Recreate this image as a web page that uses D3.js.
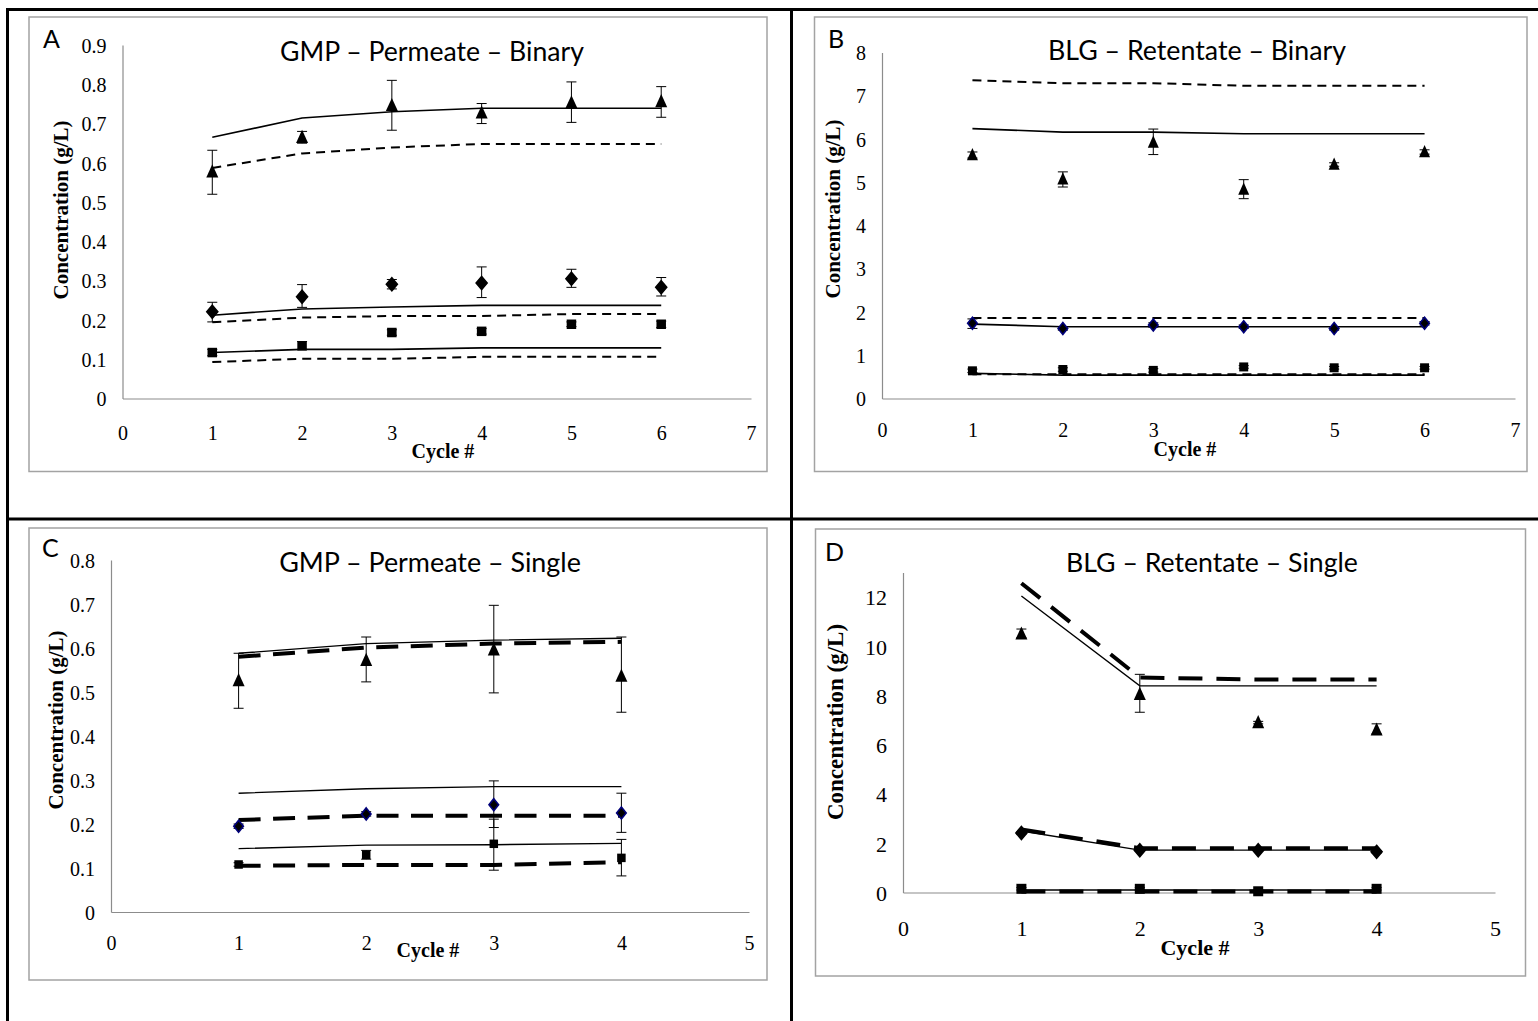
<!DOCTYPE html>
<html>
<head>
<meta charset="utf-8">
<script src="https://cdn.jsdelivr.net/npm/d3@7"></script>
<style>
  html, body { margin: 0; padding: 0; background: #fff; }
  svg { display: block; }
</style>
</head>
<body>
<svg id="chart" width="1538" height="1021"></svg>
<script>
// ---------------- DATA ----------------
const cyclesAB = [1, 2, 3, 4, 5, 6];
const cyclesCD = [1, 2, 3, 4];

const xTicksAB = [0, 1, 2, 3, 4, 5, 6, 7];
const xTicksCD = [0, 1, 2, 3, 4, 5];
const yTicksA = [0, 0.1, 0.2, 0.3, 0.4, 0.5, 0.6, 0.7, 0.8, 0.9];
const yTicksB = [0, 1, 2, 3, 4, 5, 6, 7, 8];
const yTicksC = [0, 0.1, 0.2, 0.3, 0.4, 0.5, 0.6, 0.7, 0.8];
const yTicksD = [0, 2, 4, 6, 8, 10, 12];

const panelLetters = ["A", "B", "C", "D"];
const panelTitles = ["GMP \u2013 Permeate \u2013 Binary", "BLG \u2013 Retentate \u2013 Binary",
                     "GMP \u2013 Permeate \u2013 Single", "BLG \u2013 Retentate \u2013 Single"];
const yAxisTitle = "Concentration (g/L)";
const xAxisTitle = "Cycle #";

// Panel A – GMP permeate binary
const A_tri      = [0.577, 0.665, 0.746, 0.727, 0.753, 0.756];
const A_triLo    = [0.520, 0.650, 0.683, 0.700, 0.703, 0.716];
const A_triHi    = [0.632, 0.680, 0.810, 0.751, 0.806, 0.794];
const A_triSolid = [0.665, 0.714, 0.730, 0.739, 0.739, 0.739];
const A_triDash  = [0.587, 0.624, 0.639, 0.648, 0.648, 0.648];
const A_dia      = [0.221, 0.259, 0.291, 0.294, 0.305, 0.283];
const A_diaLo    = [0.195, 0.232, 0.279, 0.257, 0.283, 0.261];
const A_diaHi    = [0.245, 0.290, 0.303, 0.335, 0.329, 0.308];
const A_diaSolid = [0.212, 0.228, 0.233, 0.237, 0.237, 0.237];
const A_diaDash  = [0.194, 0.206, 0.210, 0.210, 0.215, 0.215];
const A_sq       = [0.117, 0.134, 0.168, 0.171, 0.189, 0.189];
const A_sqLo     = [0.109, 0.125, 0.161, 0.164, 0.183, 0.181];
const A_sqHi     = [0.125, 0.145, 0.175, 0.178, 0.195, 0.197];
const A_sqSolid  = [0.117, 0.125, 0.125, 0.129, 0.129, 0.129];
const A_sqDash   = [0.093, 0.101, 0.101, 0.106, 0.106, 0.106];

// Panel B – BLG retentate binary
const B_tri      = [5.63, 5.07, 5.92, 4.83, 5.41, 5.70];
const B_triLo    = [5.56, 4.89, 5.64, 4.62, 5.37, 5.65];
const B_triHi    = [5.70, 5.24, 6.23, 5.06, 5.45, 5.75];
const B_triSolid = [6.24, 6.16, 6.16, 6.12, 6.12, 6.12];
const B_triDash  = [7.36, 7.29, 7.29, 7.23, 7.23, 7.23];
const B_dia      = [1.74, 1.62, 1.70, 1.66, 1.62, 1.74];
const B_diaLo    = [1.62, 1.58, 1.65, 1.62, 1.58, 1.70];
const B_diaHi    = [1.84, 1.66, 1.75, 1.70, 1.66, 1.78];
const B_diaSolid = [1.72, 1.66, 1.66, 1.66, 1.66, 1.66];
const B_diaDash  = [1.86, 1.86, 1.86, 1.86, 1.86, 1.86];
const B_sq       = [0.64, 0.67, 0.65, 0.73, 0.71, 0.71];
const B_sqLo     = [0.60, 0.63, 0.61, 0.70, 0.68, 0.68];
const B_sqHi     = [0.68, 0.71, 0.69, 0.76, 0.74, 0.74];
const B_sqSolid  = [0.58, 0.54, 0.54, 0.54, 0.54, 0.54];
const B_sqDash   = [0.56, 0.56, 0.56, 0.56, 0.56, 0.56];

// Panel C – GMP permeate single
const C_tri      = [0.526, 0.572, 0.596, 0.536];
const C_triLo    = [0.463, 0.523, 0.498, 0.454];
const C_triHi    = [0.588, 0.625, 0.697, 0.625];
const C_triSolid = [0.588, 0.610, 0.618, 0.622];
const C_triDash  = [0.580, 0.601, 0.610, 0.614];
const C_dia      = [0.195, 0.223, 0.244, 0.225];
const C_diaLo    = [0.190, 0.218, 0.192, 0.181];
const C_diaHi    = [0.200, 0.228, 0.298, 0.270];
const C_diaSolid = [0.270, 0.280, 0.285, 0.285];
const C_diaDash  = [0.209, 0.219, 0.219, 0.219];
const C_sq       = [0.108, 0.130, 0.155, 0.123];
const C_sqLo     = [0.104, 0.120, 0.095, 0.082];
const C_sqHi     = [0.112, 0.140, 0.211, 0.165];
const C_sqSolid  = [0.144, 0.152, 0.153, 0.156];
const C_sqDash   = [0.105, 0.107, 0.107, 0.113];

// Panel D – BLG retentate single
const D_tri      = [10.50, 8.05, 6.90, 6.60];
const D_triLo    = [10.35, 7.32, 6.85, 6.45];
const D_triHi    = [10.70, 8.86, 6.95, 6.85];
const D_triSolid = [12.04, 8.39, 8.39, 8.39];
const D_triDash  = [12.56, 8.73, 8.65, 8.65];
const D_dia      = [2.42, 1.72, 1.72, 1.65];
const D_diaLo    = [2.37, 1.68, 1.68, 1.60];
const D_diaHi    = [2.47, 1.76, 1.76, 1.70];
const D_diaSolid = [2.50, 1.72, 1.72, 1.72];
const D_diaDash  = [2.56, 1.80, 1.80, 1.80];
const D_sq       = [0.15, 0.15, 0.05, 0.15];
const D_sqLo     = [0.10, 0.10, 0.00, 0.10];
const D_sqHi     = [0.20, 0.20, 0.10, 0.20];
const D_sqSolid  = [0.10, 0.10, 0.10, 0.10];
const D_sqDash   = [0.04, 0.04, 0.04, 0.04];

// ---------------- LAYOUT / STYLE ----------------
const svg = d3.select("#chart");
const SERIF = "'Liberation Serif', 'Times New Roman', serif";
const SANS = "Lato, 'Open Sans', 'Liberation Sans', sans-serif";

// outer frame (table borders)
const frame = svg.append("g").attr("stroke", "#000").attr("stroke-width", 3);
frame.append("line").attr("x1", 6).attr("x2", 1538).attr("y1", 9.5).attr("y2", 9.5);
frame.append("line").attr("x1", 7.5).attr("x2", 7.5).attr("y1", 8).attr("y2", 1021);
frame.append("line").attr("x1", 791.5).attr("x2", 791.5).attr("y1", 8).attr("y2", 1021);
frame.append("line").attr("x1", 6).attr("x2", 1538).attr("y1", 519).attr("y2", 519);

const panels = [
  { letter: panelLetters[0], title: panelTitles[0], titleX: 432, titleY: 61, titleW: 304,
    letterX: 43, letterY: 48,
    box: [29, 17, 767, 471.5],
    x: [0, 7], xr: [122.5, 751], y: [0, 0.9], yr: [398.5, 45],
    xTicks: xTicksAB, yTicks: yTicksA, tickFont: 20,
    xTickY: 439.5, cycleX: 443, cycleY: 458, cycleFont: 20,
    yLabX: 68, yLabY: 210, yLabFont: 21,
    cycles: cyclesAB, dashW: 2, dash: "9,6", solidW: 1.6, diaFill: "#000", diaStroke: "#000",
    diaSize: [5.5, 6.5], sqSize: 9.5, triSize: [6, 7.5],
    series: [
      { m: "tri", v: A_tri, lo: A_triLo, hi: A_triHi, solid: A_triSolid, dash: A_triDash },
      { m: "dia", v: A_dia, lo: A_diaLo, hi: A_diaHi, solid: A_diaSolid, dash: A_diaDash },
      { m: "sq", v: A_sq, lo: A_sqLo, hi: A_sqHi, solid: A_sqSolid, dash: A_sqDash }
    ] },
  { letter: panelLetters[1], title: panelTitles[1], titleX: 1197, titleY: 60, titleW: 298,
    letterX: 828, letterY: 48,
    box: [814.5, 17, 1527, 471.5],
    x: [0, 7], xr: [882, 1515], y: [0, 8], yr: [398.5, 52.5],
    xTicks: xTicksAB, yTicks: yTicksB, tickFont: 20,
    xTickY: 437, cycleX: 1185, cycleY: 456, cycleFont: 20,
    yLabX: 840, yLabY: 209, yLabFont: 21,
    cycles: cyclesAB, dashW: 2, dash: "9,6", solidW: 1.6, diaFill: "#000", diaStroke: "#00007a",
    diaSize: [4.8, 6], sqSize: 9, triSize: [5.5, 7],
    series: [
      { m: "tri", v: B_tri, lo: B_triLo, hi: B_triHi, solid: B_triSolid, dash: B_triDash },
      { m: "dia", v: B_dia, lo: B_diaLo, hi: B_diaHi, solid: B_diaSolid, dash: B_diaDash },
      { m: "sq", v: B_sq, lo: B_sqLo, hi: B_sqHi, solid: B_sqSolid, dash: B_sqDash }
    ] },
  { letter: panelLetters[2], title: panelTitles[2], titleX: 430, titleY: 572, titleW: 302,
    letterX: 42, letterY: 557,
    box: [29, 528, 767, 980],
    x: [0, 5], xr: [111, 749], y: [0, 0.8], yr: [912, 560],
    xTicks: xTicksCD, yTicks: yTicksC, tickFont: 20,
    xTickY: 950, cycleX: 428, cycleY: 957, cycleFont: 20,
    yLabX: 63, yLabY: 720, yLabFont: 21,
    cycles: cyclesCD, dashW: 4, dash: "22,12.5", solidW: 1.4, diaFill: "#000", diaStroke: "#00007a",
    diaSize: [4.8, 6], sqSize: 8.5, triSize: [6, 7.5],
    series: [
      { m: "tri", v: C_tri, lo: C_triLo, hi: C_triHi, solid: C_triSolid, dash: C_triDash },
      { m: "dia", v: C_dia, lo: C_diaLo, hi: C_diaHi, solid: C_diaSolid, dash: C_diaDash },
      { m: "sq", v: C_sq, lo: C_sqLo, hi: C_sqHi, solid: C_sqSolid, dash: C_sqDash }
    ] },
  { letter: panelLetters[3], title: panelTitles[3], titleX: 1212, titleY: 572, titleW: 292,
    letterX: 825, letterY: 561,
    box: [815.5, 529, 1525.5, 976],
    x: [0, 5], xr: [903, 1495], y: [0, 13], yr: [892.5, 572.4],
    xTicks: xTicksCD, yTicks: yTicksD, tickFont: 22,
    xTickY: 936, cycleX: 1195, cycleY: 955, cycleFont: 22,
    yLabX: 843, yLabY: 722, yLabFont: 23,
    cycles: cyclesCD, dashW: 4, dash: "24,14", solidW: 1.4, diaFill: "#000", diaStroke: "#000",
    diaSize: [5.5, 6.5], sqSize: 10, triSize: [6, 7.5],
    series: [
      { m: "tri", v: D_tri, lo: D_triLo, hi: D_triHi, solid: D_triSolid, dash: D_triDash },
      { m: "dia", v: D_dia, lo: D_diaLo, hi: D_diaHi, solid: D_diaSolid, dash: D_diaDash },
      { m: "sq", v: D_sq, lo: D_sqLo, hi: D_sqHi, solid: D_sqSolid, dash: D_sqDash }
    ] }
];

function markerPath(m, p) {
  if (m === "tri") {
    const w = p.triSize[0], h = p.triSize[1];
    return `M0,${-h}L${w},${h * 0.75}L${-w},${h * 0.75}Z`;
  }
  if (m === "dia") {
    const w = p.diaSize[0], h = p.diaSize[1];
    return `M0,${-h}L${w},0L0,${h}L${-w},0Z`;
  }
  const s = p.sqSize / 2;
  return `M${-s},${-s}H${s}V${s}H${-s}Z`;
}

panels.forEach(p => {
  const g = svg.append("g");
  const xs = d3.scaleLinear().domain(p.x).range(p.xr);
  const ys = d3.scaleLinear().domain(p.y).range(p.yr);

  // chart area border
  g.append("rect")
    .attr("x", p.box[0]).attr("y", p.box[1])
    .attr("width", p.box[2] - p.box[0]).attr("height", p.box[3] - p.box[1])
    .attr("fill", "#fff").attr("stroke", "#a3a3a3").attr("stroke-width", 1.5);

  // axes
  const yAxis = d3.axisLeft(ys).tickValues(p.yTicks).tickSize(0).tickPadding(16)
    .tickFormat(d => String(+d.toFixed(2)));
  const yg = g.append("g").attr("transform", `translate(${xs(0)},0)`).call(yAxis);
  yg.select(".domain").attr("stroke", "#8c8c8c").attr("stroke-width", 1.2);
  yg.selectAll("text").attr("font-family", SERIF).attr("font-size", p.tickFont).attr("fill", "#000")
    .attr("dy", "0.36em");

  const xAxis = d3.axisBottom(xs).tickValues(p.xTicks).tickSize(0).tickPadding(0)
    .tickFormat(d3.format("d"));
  const xg = g.append("g").attr("transform", `translate(0,${ys(0)})`).call(xAxis);
  xg.select(".domain").attr("stroke", "#8c8c8c").attr("stroke-width", 1.2);
  xg.selectAll("text").attr("font-family", SERIF).attr("font-size", p.tickFont).attr("fill", "#000")
    .attr("dy", 0).attr("y", p.xTickY - ys(0));

  // axis titles
  g.append("text").attr("x", p.cycleX).attr("y", p.cycleY).attr("text-anchor", "middle")
    .attr("font-family", SERIF).attr("font-weight", "bold").attr("font-size", p.cycleFont)
    .text(xAxisTitle);
  g.append("text").attr("transform", `translate(${p.yLabX},${p.yLabY}) rotate(-90)`)
    .attr("text-anchor", "middle")
    .attr("font-family", SERIF).attr("font-weight", "bold").attr("font-size", p.yLabFont)
    .text(yAxisTitle);

  // panel letter and title
  g.append("text").attr("x", p.letterX).attr("y", p.letterY)
    .attr("font-family", SANS).attr("font-size", 25).text(p.letter);
  const t = g.append("text").attr("x", p.titleX).attr("y", p.titleY).attr("text-anchor", "middle")
    .attr("font-family", SANS).attr("font-size", 24).text(p.title);
  const w = t.node().getComputedTextLength();
  if (w > 0) t.attr("font-size", 24 * p.titleW / w);

  // model lines
  const line = d3.line().x(d => xs(d[0])).y(d => ys(d[1]));
  p.series.forEach(s => {
    g.append("path").datum(p.cycles.map((c, i) => [c, s.solid[i]]))
      .attr("d", line).attr("fill", "none").attr("stroke", "#000").attr("stroke-width", p.solidW);
    g.append("path").datum(p.cycles.map((c, i) => [c, s.dash[i]]))
      .attr("d", line).attr("fill", "none").attr("stroke", "#000").attr("stroke-width", p.dashW)
      .attr("stroke-dasharray", p.dash);
  });

  // error bars
  p.series.forEach(s => {
    const eb = g.append("g").attr("stroke", "#000").attr("stroke-width", 1);
    p.cycles.forEach((c, i) => {
      const cx = xs(c);
      eb.append("line").attr("x1", cx).attr("x2", cx).attr("y1", ys(s.lo[i])).attr("y2", ys(s.hi[i]));
      eb.append("line").attr("x1", cx - 5).attr("x2", cx + 5).attr("y1", ys(s.lo[i])).attr("y2", ys(s.lo[i]));
      eb.append("line").attr("x1", cx - 5).attr("x2", cx + 5).attr("y1", ys(s.hi[i])).attr("y2", ys(s.hi[i]));
    });
  });

  // markers
  p.series.forEach(s => {
    g.append("g").selectAll("path").data(p.cycles.map((c, i) => [c, s.v[i]])).join("path")
      .attr("transform", d => `translate(${xs(d[0])},${ys(d[1])})`)
      .attr("d", markerPath(s.m, p))
      .attr("fill", s.m === "dia" ? p.diaFill : "#000")
      .attr("stroke", s.m === "dia" ? p.diaStroke : "none")
      .attr("stroke-width", s.m === "dia" ? 1.6 : 0);
  });
});
</script>
</body>
</html>
